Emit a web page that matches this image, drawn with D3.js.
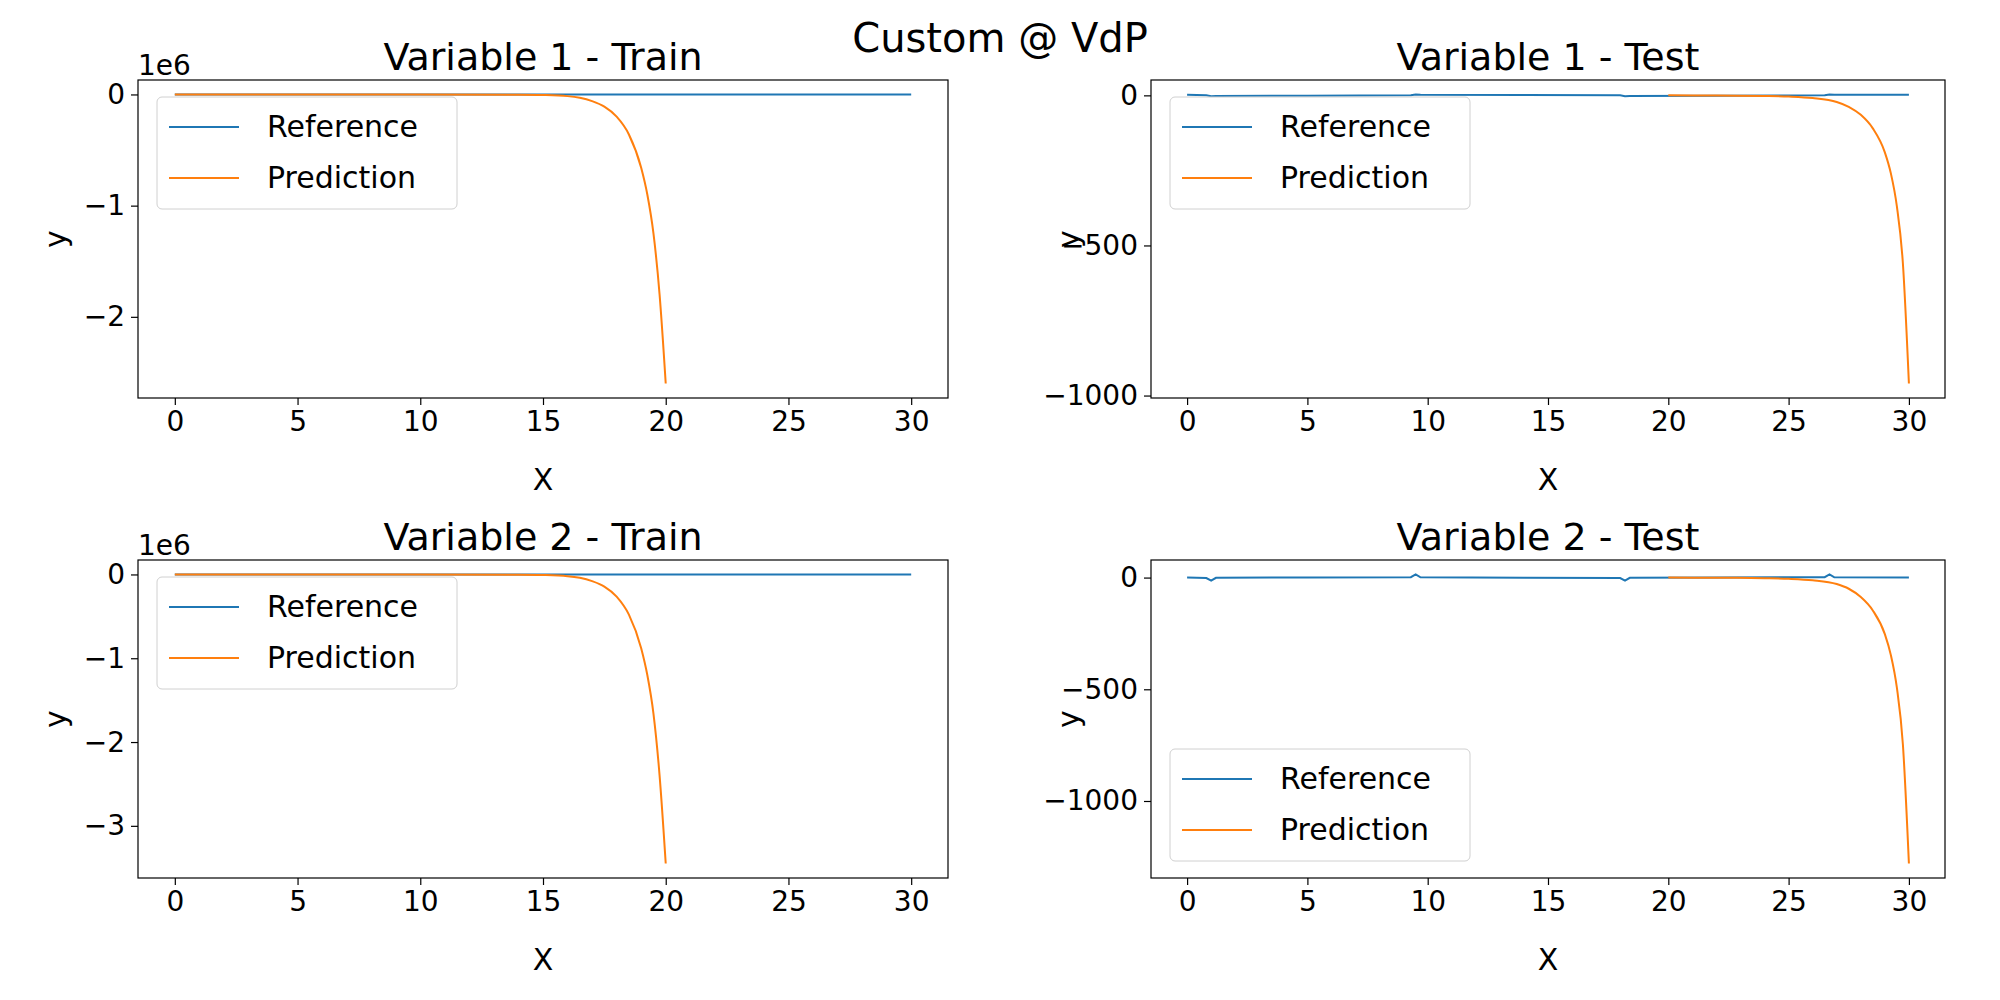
<!DOCTYPE html>
<html>
<head>
<meta charset="utf-8">
<script src="https://cdn.jsdelivr.net/npm/d3@7"></script>
<style>
  body { margin: 0; background: #fff; }
  svg { font-family: "DejaVu Sans", sans-serif; }
</style>
</head>
<body>
<svg id="chart" width="2000" height="1000"></svg>
<script>
/* Custom @ VdP — train/test reference vs prediction */

const BLUE = "#1f77b4";
const ORANGE = "#ff7f0e";

// Reference curves (x in [0, 30])
const refX = [0, 0.8, 1.0, 1.2, 5, 9.3, 9.5, 9.7, 14, 18.0, 18.2, 18.4, 22, 26.5, 26.7, 26.9, 30];
const refV1 = [2, 0, -3, -2, -1.5, 0, 3, 2, 1.5, 0, -3, -2, -1.5, 0, 3, 2, 1.8];
const refV2 = [0, -2, -14, -1, 0.5, 2, 14, 1, -0.5, -2, -14, -1, 0.5, 2, 14, 1, 0];

// Train predictions (x in [0, 20])
const trainX = [0, 5, 10, 14, 15, 16, 16.5, 17, 17.5, 18, 18.5, 19, 19.25, 19.5, 19.75, 20];
const trainV1 = [0, 0, 0, -2e3, -5e3, -1.5e4, -3e4, -6e4, -1.1e5, -2e5, -3.6e5, -6.6e5, -9e5, -1.25e6, -1.8e6, -2.6e6];
const trainV2 = [0, 0, 0, -2.6e3, -6.6e3, -2e4, -4e4, -8e4, -1.45e5, -2.65e5, -4.8e5, -8.8e5, -1.2e6, -1.66e6, -2.4e6, -3.45e6];

// Test predictions (x in [20, 30])
const testX = [20, 22, 24, 25, 26, 27, 27.5, 28, 28.5, 29, 29.25, 29.5, 29.75, 30];
const testV1 = [0, -0.5, -2, -4, -9, -22, -38, -65, -110, -190, -260, -370, -560, -960];
const testV2 = [0, -0.7, -2.7, -5.3, -12, -29, -50, -87, -147, -253, -347, -493, -747, -1280];

const xTicks = [0, 5, 10, 15, 20, 25, 30];
const trainTicks1 = [0, -1e6, -2e6];
const trainTicks2 = [0, -1e6, -2e6, -3e6];
const testTicks = [0, -500, -1000];

const panels = [
  { title: "Variable 1 - Train", x0: 138, x1: 948, y0: 80, y1: 398, ref: refV1, px: trainX, pv: trainV1, ticks: trainTicks1, sci: true, legend: "upper" },
  { title: "Variable 1 - Test", x0: 1151, x1: 1945, y0: 80, y1: 398, ref: refV1, px: testX, pv: testV1, ticks: testTicks, sci: false, legend: "upper" },
  { title: "Variable 2 - Train", x0: 138, x1: 948, y0: 560, y1: 878, ref: refV2, px: trainX, pv: trainV2, ticks: trainTicks2, sci: true, legend: "upper" },
  { title: "Variable 2 - Test", x0: 1151, x1: 1945, y0: 560, y1: 878, ref: refV2, px: testX, pv: testV2, ticks: testTicks, sci: false, legend: "lower" },
];

const svg = d3.select("#chart");

svg.append("text")
  .attr("x", 1000).attr("y", 52)
  .attr("text-anchor", "middle")
  .attr("font-size", 40)
  .text("Custom @ VdP");

function pad(lo, hi) {
  const m = (hi - lo) * 0.05;
  return [lo - m, hi + m];
}

function drawPanel(p) {
  const g = svg.append("g");
  const allY = p.ref.concat(p.pv);
  const x = d3.scaleLinear().domain(pad(0, 30)).range([p.x0, p.x1]);
  const y = d3.scaleLinear().domain(pad(d3.min(allY), d3.max(allY))).range([p.y1, p.y0]);

  const clipId = "clip" + p.x0 + p.y0;
  g.append("clipPath").attr("id", clipId)
    .append("rect").attr("x", p.x0).attr("y", p.y0)
    .attr("width", p.x1 - p.x0).attr("height", p.y1 - p.y0);

  const line = d3.line().x(d => x(d[0])).y(d => y(d[1]));
  const lines = g.append("g").attr("clip-path", `url(#${clipId})`);
  lines.append("path")
    .datum(refX.map((v, i) => [v, p.ref[i]]))
    .attr("d", line).attr("fill", "none").attr("stroke", BLUE).attr("stroke-width", 2);
  lines.append("path")
    .datum(p.px.map((v, i) => [v, p.pv[i]]))
    .attr("d", d3.line().curve(d3.curveMonotoneX).x(d => x(d[0])).y(d => y(d[1])))
    .attr("fill", "none").attr("stroke", ORANGE).attr("stroke-width", 2);

  // Axes
  const xAxis = g.append("g")
    .attr("transform", `translate(0,${p.y1})`)
    .call(d3.axisBottom(x).tickValues(xTicks).tickSize(7).tickPadding(6).tickFormat(d3.format("d")));
  const fmt = p.sci ? (d => (d / 1e6 === 0 ? "0" : "\u2212" + Math.abs(d / 1e6))) : (d => (d === 0 ? "0" : "\u2212" + Math.abs(d)));
  const yAxis = g.append("g")
    .attr("transform", `translate(${p.x0},0)`)
    .call(d3.axisLeft(y).tickValues(p.ticks).tickSize(7).tickPadding(6).tickFormat(fmt));
  [xAxis, yAxis].forEach(a => {
    a.select(".domain").remove();
    a.selectAll("text").attr("font-size", 28).attr("fill", "#000").attr("font-family", "DejaVu Sans");
    a.selectAll("line").attr("stroke", "#000").attr("stroke-width", 1.2);
  });

  g.append("rect")
    .attr("x", p.x0).attr("y", p.y0)
    .attr("width", p.x1 - p.x0).attr("height", p.y1 - p.y0)
    .attr("fill", "none").attr("stroke", "#000").attr("stroke-width", 1.2);

  if (p.sci) {
    g.append("text").attr("x", p.x0).attr("y", p.y0 - 5)
      .attr("font-size", 28).text("1e6");
  }

  g.append("text")
    .attr("x", (p.x0 + p.x1) / 2).attr("y", p.y0 - 10)
    .attr("text-anchor", "middle").attr("font-size", 38)
    .text(p.title);

  g.append("text")
    .attr("x", (p.x0 + p.x1) / 2).attr("y", p.y1 + 92)
    .attr("text-anchor", "middle").attr("font-size", 30)
    .text("X");

  g.append("text")
    .attr("transform", `translate(${p.x0 - 72},${(p.y0 + p.y1) / 2}) rotate(-90)`)
    .attr("text-anchor", "middle").attr("font-size", 30)
    .text("y");

  // Legend
  const lw = 300, lh = 112;
  const lx = p.x0 + 19;
  const ly = p.legend === "upper" ? p.y0 + 17 : p.y1 - 17 - lh;
  const leg = g.append("g").attr("transform", `translate(${lx},${ly})`);
  leg.append("rect").attr("width", lw).attr("height", lh).attr("rx", 5)
    .attr("fill", "#fff").attr("fill-opacity", 0.8).attr("stroke", "#d0d0d0");
  [["Reference", BLUE], ["Prediction", ORANGE]].forEach(([label, c], i) => {
    const cy = 30 + i * 51;
    leg.append("line").attr("x1", 12).attr("x2", 82).attr("y1", cy).attr("y2", cy)
      .attr("stroke", c).attr("stroke-width", 2);
    leg.append("text").attr("x", 110).attr("y", cy + 10).attr("font-size", 30).text(label);
  });
}

panels.forEach(drawPanel);
</script>
</body>
</html>
